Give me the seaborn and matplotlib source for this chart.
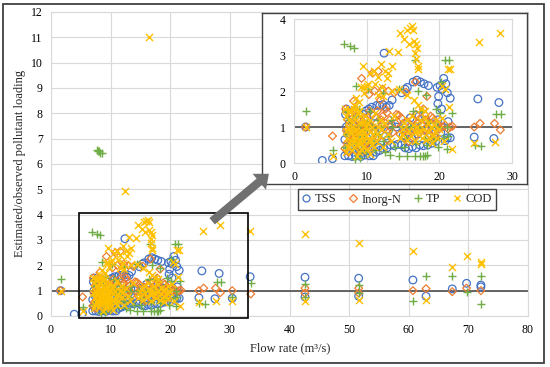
import matplotlib
matplotlib.use("Agg")
import matplotlib.pyplot as plt
import seaborn as sns
import pandas as pd
from matplotlib.patches import Rectangle, FancyArrowPatch
from matplotlib.lines import Line2D

# ---------------- data (flow rate m3/s, estimated/observed ratio) ----------------
tss_points = [
    (1.6, 1.0), (3.9, 0.07), (5.3, 0.12), (12.4, 3.05),
    (14.8, 1.95), (15.3, 2.05), (15.6, 2.1), (16.4, 2.25), (16.9, 2.3), (17.4, 2.25), (17.9, 2.2), (18.5, 2.15),
    (19.7, 2.1), (20.1, 2.15), (20.6, 2.35), (20.9, 2.2), (20.4, 2.05), (21.1, 1.95), (21.5, 1.8), (19.9, 1.85),
    (19.8, 1.65), (20.3, 1.5), (21.2, 1.15), (21.5, 0.7), (21.1, 0.7), (20.8, 0.62), (20.3, 1.0),
    (24.8, 0.72), (25.3, 1.78), (27.5, 0.68), (28.2, 1.68), (30.4, 0.7), (33.4, 1.55),
    (42.6, 1.53), (42.6, 0.75), (51.6, 1.49), (51.6, 0.78), (60.7, 1.42), (62.9, 0.78),
    (67.3, 1.07), (69.7, 1.29), (72.1, 1.22), (72.1, 1.15),
    (7.0, 0.2), (7.3, 0.35), (7.5, 0.2), (7.8, 0.5), (8.0, 0.18), (8.2, 0.3), (8.5, 0.2), (8.8, 0.45),
    (9.2, 0.18), (9.5, 0.3), (9.8, 0.22), (10.2, 0.35), (10.4, 0.2), (10.9, 0.2), (11.3, 0.3), (11.8, 0.35),
    (12.3, 0.4), (12.8, 0.42), (13.3, 0.5), (13.8, 0.48), (14.3, 0.52), (7.1, 1.35), (7.2, 1.5), (7.4, 0.8),
    (7.6, 1.1), (8.0, 0.9), (8.3, 0.65), (8.7, 1.2), (9.1, 0.95), (9.5, 1.35), (9.9, 1.45), (10.3, 1.5),
    (10.7, 1.55), (11.0, 1.3), (11.4, 1.6), (11.8, 1.6), (12.2, 1.62), (12.7, 1.55), (13.1, 1.6), (13.5, 1.75),
    (10.0, 0.7), (10.6, 1.0), (11.2, 0.85), (12.0, 0.6), (12.6, 0.75), (13.0, 0.9), (13.4, 1.05), (7.0, 0.65),
    (9.3, 0.6), (7.2, 1.0), (7.7, 1.3), (8.4, 1.45), (8.9, 0.3), (9.7, 0.5), (10.8, 0.55), (11.6, 0.45),
    (14.1, 1.0), (15.2, 1.1), (18.0, 1.3),
    (14.8, 0.5), (15.3, 0.42), (15.8, 0.4), (16.3, 0.45), (16.8, 0.42), (17.3, 0.5), (17.8, 0.48), (18.4, 0.5),
    (19.0, 0.55), (19.5, 0.6), (15.0, 0.75), (15.7, 0.85), (16.2, 0.7), (16.6, 1.0), (17.0, 0.8), (17.6, 1.05),
    (18.2, 0.9), (18.8, 1.1), (19.3, 0.8), (19.8, 1.2), (20.2, 0.85), (16.0, 1.25), (17.2, 1.3),
]

inorgn_points = [
    (1.6, 1.0), (5.3, 0.75), (24.8, 1.0), (25.6, 1.1), (27.6, 1.1), (28.4, 0.92), (30.4, 1.0), (33.5, 0.87),
    (42.6, 1.1), (42.6, 0.9), (51.6, 1.1), (51.6, 0.91), (60.7, 1.0), (62.9, 1.08), (67.3, 0.96), (69.7, 1.1),
    (72.1, 1.0),
    (9.3, 2.35), (10.8, 2.5), (11.6, 2.55), (12.2, 2.05), (13.0, 2.0), (13.8, 1.95), (11.9, 1.75), (8.2, 1.72),
    (14.1, 1.35), (14.4, 1.33), (16.7, 2.25), (15.4, 1.97), (18.3, 1.85), (17.8, 1.5), (12.8, 1.4), (13.2, 1.2),
    (10.3, 1.9), (11.1, 2.0),
    (7.0, 0.4), (7.2, 0.9), (7.4, 1.2), (7.6, 0.6), (7.8, 1.4), (8.0, 0.8), (8.2, 1.1), (8.4, 0.5), (8.6, 1.3),
    (8.8, 0.7), (9.0, 1.0), (9.2, 0.45), (9.4, 1.15), (9.6, 0.85), (9.8, 1.25), (10.0, 0.6), (10.2, 1.05),
    (10.5, 0.75), (10.8, 1.35), (11.0, 0.9), (11.3, 1.1), (11.6, 0.7), (12.0, 1.2), (12.4, 0.95), (12.8, 0.65),
    (13.2, 1.0), (13.6, 0.85), (14.0, 1.1), (7.5, 0.3), (8.5, 0.35), (9.7, 0.35), (10.6, 0.45),
    (7.1, 1.5), (7.3, 0.55), (7.7, 1.0), (8.1, 1.45), (8.3, 0.7), (8.7, 0.95), (9.1, 0.7), (9.5, 1.05),
    (9.9, 0.55), (10.4, 1.45), (11.5, 1.45), (12.2, 1.3), (12.6, 1.5),
    (14.6, 0.8), (15.0, 1.05), (15.3, 0.7), (15.6, 1.15), (16.0, 0.9), (16.3, 1.2), (16.6, 0.75), (17.0, 1.1),
    (17.3, 0.85), (17.6, 1.25), (18.0, 0.95), (18.3, 1.15), (18.6, 0.8), (19.0, 1.05), (19.3, 0.9), (19.7, 1.1),
    (20.0, 0.95), (20.4, 1.0), (20.8, 1.05), (21.2, 0.95), (21.5, 1.0), (21.8, 1.02), (16.8, 1.35), (18.8, 1.3),
    (15.8, 0.6), (19.5, 0.7), (14.8, 1.25), (15.1, 0.9), (17.1, 0.95), (18.1, 1.2), (19.1, 1.25),
]

tp_points = [
    (1.6, 1.45), (5.3, 0.35), (7.7, 6.55), (7.9, 6.5), (8.1, 6.5), (8.3, 6.45), (8.5, 6.45),
    (6.9, 3.3), (7.7, 3.25), (8.3, 3.2),
    (8.6, 2.15), (10.2, 2.05), (12.3, 1.95), (14.5, 2.05), (16.6, 2.85), (17.0, 2.0), (19.5, 1.5), (18.2, 1.9),
    (20.8, 2.85), (21.3, 2.85), (21.7, 1.4), (21.2, 0.75), (20.2, 2.25), (21.0, 0.4),
    (24.9, 0.5), (25.8, 0.47), (27.8, 1.35), (28.5, 1.35), (30.4, 0.75), (33.6, 1.3),
    (42.6, 1.26), (42.6, 0.75), (51.6, 1.24), (51.6, 0.9), (60.7, 0.6), (62.9, 1.58), (67.3, 1.57), (69.7, 0.93),
    (72.1, 1.57), (72.1, 0.47),
    (8.4, 0.1), (9.1, 0.15), (13.2, 0.22), (14.5, 0.2), (15.5, 0.2), (16.7, 0.2), (17.3, 0.2), (17.7, 0.2),
    (18.0, 0.2), (18.3, 0.22),
    (7.0, 0.45), (7.3, 0.8), (7.6, 1.2), (7.9, 0.55), (8.2, 0.95), (8.5, 1.3), (8.8, 0.7), (9.1, 1.05),
    (9.4, 0.4), (9.7, 0.9), (10.0, 1.15), (10.4, 0.6), (10.8, 1.0), (11.2, 0.35), (11.6, 0.8), (12.0, 1.0),
    (12.5, 0.3), (13.0, 0.75), (13.5, 1.0), (13.9, 0.45), (10.5, 1.45), (11.5, 1.2), (9.0, 1.5),
    (7.2, 1.45), (7.8, 1.0), (8.6, 0.55), (9.3, 0.75), (9.9, 0.3), (11.0, 0.6), (12.2, 0.6), (13.3, 1.2),
    (14.8, 1.0), (15.4, 0.7), (15.9, 1.0), (16.4, 1.45), (16.8, 0.55), (17.2, 1.0), (17.6, 1.45), (18.0, 0.7),
    (18.6, 1.1), (19.2, 0.65), (19.7, 1.0), (20.1, 1.4), (20.5, 0.7), (21.0, 1.0), (15.1, 0.45), (18.3, 0.5),
    (19.8, 0.45),
]

cod_points = [
    (1.6, 1.0), (5.3, 0.2), (12.4, 4.95), (16.5, 11.0),
    (25.5, 3.35), (28.4, 3.6), (33.4, 3.36), (24.8, 0.55), (27.7, 0.58), (30.3, 0.6),
    (42.6, 3.24), (42.6, 0.6), (51.6, 2.9), (51.6, 0.62), (60.7, 2.55), (62.9, 0.62), (67.3, 1.92), (69.7, 2.36),
    (72.1, 2.05), (72.1, 2.12),
    (14.6, 3.6), (15.2, 3.45), (15.6, 3.7), (16.0, 3.75), (16.2, 3.8), (16.4, 3.7), (15.8, 3.3), (16.5, 3.4),
    (16.8, 3.3), (16.9, 3.2), (16.7, 3.05), (16.8, 2.9), (17.0, 2.7), (17.0, 2.6), (14.3, 3.07), (13.1, 3.1),
    (9.5, 2.7), (10.5, 2.5), (11.0, 2.55), (11.5, 2.4), (12.0, 2.75), (12.5, 2.55), (13.0, 2.5), (13.5, 2.7),
    (12.8, 2.35), (11.2, 2.2), (10.0, 2.15), (9.2, 2.1), (9.6, 2.1), (10.2, 2.2), (12.1, 2.1), (13.5, 2.0),
    (14.5, 2.05), (15.5, 1.9), (16.5, 1.75), (17.0, 1.6), (17.5, 1.5), (18.0, 1.45), (8.5, 1.8), (9.0, 1.7),
    (8.2, 1.6), (8.7, 1.5), (9.7, 1.95), (11.5, 1.9), (12.3, 1.85),
    (21.2, 2.6), (21.5, 2.6), (21.3, 1.55), (21.7, 0.4), (20.4, 2.15), (20.8, 2.05),
    (7.0, 1.5), (7.2, 0.3), (7.4, 1.0), (7.6, 0.55), (7.8, 1.45), (8.0, 0.35), (8.1, 0.75), (8.3, 1.25),
    (8.5, 0.5), (8.6, 0.95), (8.8, 1.4), (9.0, 0.3), (9.1, 0.65), (9.3, 1.1), (9.5, 0.45), (9.6, 0.85),
    (9.8, 1.3), (10.0, 0.4), (10.1, 0.95), (10.3, 0.65), (10.5, 1.2), (10.7, 0.5), (10.9, 0.8), (11.1, 1.4),
    (11.3, 0.6), (11.6, 1.0), (11.9, 0.75), (12.2, 0.45), (12.5, 1.1), (12.9, 0.8), (13.3, 0.6), (13.7, 1.3),
    (7.3, 0.7), (7.7, 0.85), (8.4, 0.6), (8.9, 1.1), (9.4, 0.75), (9.9, 1.0), (10.4, 0.25), (7.5, 1.2),
    (8.0, 1.0), (9.2, 0.55), (8.7, 0.2),
    (7.1, 0.9), (7.2, 1.3), (7.4, 0.45), (7.6, 0.95), (7.9, 0.6), (8.1, 1.15), (8.2, 0.45), (8.4, 0.9),
    (8.6, 0.7), (8.8, 0.55), (8.9, 0.85), (9.1, 1.3), (9.2, 0.9), (9.4, 0.35), (9.6, 1.15), (9.7, 0.6),
    (9.9, 0.75), (10.2, 1.1), (10.4, 0.85), (10.6, 0.65), (10.8, 1.0), (11.0, 0.45), (11.4, 0.8), (11.8, 1.2),
    (12.1, 0.95), (7.5, 1.45), (8.3, 1.5), (9.0, 1.45),
    (14.6, 0.7), (14.9, 0.8), (15.2, 1.1), (15.5, 0.65), (15.8, 0.9), (16.1, 0.75), (16.4, 1.05), (16.7, 0.6),
    (17.0, 0.85), (17.3, 1.2), (17.6, 0.7), (17.9, 0.95), (18.2, 0.65), (18.5, 0.85), (18.8, 1.0), (19.1, 0.75),
    (19.4, 0.9), (19.7, 0.7), (20.0, 0.95), (20.3, 1.25), (20.6, 0.6), (16.2, 1.3), (18.0, 1.25), (19.0, 0.55),
    (15.0, 0.95), (15.6, 1.2), (16.9, 1.0), (17.4, 0.9), (18.4, 1.1), (18.7, 0.7), (19.2, 1.05), (19.6, 1.2),
    (16.6, 0.85),
]

series_names = ["TSS", "Inorg-N", "TP", "COD"]
series_points = [tss_points, inorgn_points, tp_points, cod_points]
series_colors = ["#4472C4", "#ED7D31", "#70AD47", "#FFC000"]

main_xticks = [0, 10, 20, 30, 40, 50, 60, 70, 80]
main_yticks = list(range(0, 13))
inset_xticks = [0, 10, 20, 30]
inset_yticks = [0, 1, 2, 3, 4]

frames = []
for name, pts in zip(series_names, series_points):
    d = pd.DataFrame(pts, columns=["flow", "ratio"])
    d["series"] = name
    frames.append(d)
df = pd.concat(frames, ignore_index=True)

# ---------------- styling ----------------
sns.set_theme(style="white")
plt.rcParams["font.family"] = ["Liberation Serif", "DejaVu Serif"]
GRID = "#D9D9D9"
W, H = 550, 367

fig = plt.figure(figsize=(5.5, 3.67), dpi=100)


def px_rect(x0, y0, x1, y1):
    return [x0 / W, 1 - y1 / H, (x1 - x0) / W, (y1 - y0) / H]


def draw_series(ax, data):
    for name, col in zip(series_names, series_colors):
        sub = data[data["series"] == name]
        if name == "TSS":
            sns.scatterplot(data=sub, x="flow", y="ratio", ax=ax, marker="o", s=30,
                            facecolors="none", edgecolor=col, linewidth=0.9, zorder=3)
        elif name == "Inorg-N":
            sns.scatterplot(data=sub, x="flow", y="ratio", ax=ax, marker="D", s=16,
                            facecolors="none", edgecolor=col, linewidth=0.9, zorder=3)
        elif name == "TP":
            sns.scatterplot(data=sub, x="flow", y="ratio", ax=ax, marker="+", s=34,
                            color=col, linewidth=1.0, zorder=3)
        else:
            sns.scatterplot(data=sub, x="flow", y="ratio", ax=ax, marker="x", s=26,
                            color=col, linewidth=1.0, zorder=3)
    ax.axhline(1, color="#595959", lw=1.3, zorder=2)


def style_axes(ax, xlim, ylim, xt, yt):
    ax.set_xlim(*xlim)
    ax.set_ylim(*ylim)
    ax.set_xticks(xt)
    ax.set_yticks(yt)
    ax.grid(True, color=GRID, lw=0.8)
    ax.set_axisbelow(True)
    for s in ax.spines.values():
        s.set_color(GRID)
        s.set_linewidth(0.8)
    ax.tick_params(length=0, labelsize=8.5, pad=6, colors="#000000")
    ax.set_xlabel("")
    ax.set_ylabel("")
    if ax.get_legend():
        ax.get_legend().remove()


# main axes
ax = fig.add_axes(px_rect(51, 12, 528, 316))
draw_series(ax, df)
style_axes(ax, (0, 80), (0, 12), main_xticks, main_yticks)
ax.add_patch(Rectangle((4.7, -0.08), 28.4, 4.16, fill=False, edgecolor="black",
                       lw=1.2, clip_on=False, zorder=6))

fig.text(20 / W, 1 - 163 / H, "Estimated/observed pollutant loading", rotation=90,
         ha="center", va="center", fontsize=9)
fig.text(290 / W, 1 - 348 / H, "Flow rate (m\u00b3/s)", ha="center", va="center", fontsize=9)

# inset frame
box = fig.add_axes(px_rect(262, 13, 527, 184))
box.set_xticks([])
box.set_yticks([])
box.set_facecolor("white")
for s in box.spines.values():
    s.set_color("#404040")
    s.set_linewidth(1.0)
box.set_zorder(3)

# inset axes (zoom of the framed region)
axi = fig.add_axes(px_rect(294, 19, 512, 163))
axi.set_zorder(4)
draw_series(axi, df[df["flow"] <= 30])
style_axes(axi, (0, 30), (0, 4), inset_xticks, inset_yticks)
axi.patch.set_alpha(0)

# legend
handles = [
    Line2D([], [], ls="none", marker="o", ms=5, mfc="none", mec=series_colors[0], mew=0.9),
    Line2D([], [], ls="none", marker="D", ms=3.8, mfc="none", mec=series_colors[1], mew=0.9),
    Line2D([], [], ls="none", marker="+", ms=5.5, color=series_colors[2], mew=1.0),
    Line2D([], [], ls="none", marker="x", ms=4.5, color=series_colors[3], mew=1.0),
]
leg = fig.legend(handles, series_names, loc="center", bbox_to_anchor=(397 / W, 1 - 199.5 / H),
                 ncol=4, frameon=True, fancybox=False, edgecolor="#404040", fontsize=9,
                 handlelength=0.7, handletextpad=0.3, columnspacing=1.0, borderpad=0.35,
                 framealpha=1)
leg.get_frame().set_linewidth(1.0)
leg.set_zorder(8)

# arrow
arrow = FancyArrowPatch((210 / W, 1 - 223 / H), (271 / W, 1 - 172 / H), transform=fig.transFigure,
                        arrowstyle="simple,head_length=0.9,head_width=1.5,tail_width=0.6",
                        mutation_scale=10, color="#707070", lw=0, zorder=10)
fig.add_artist(arrow)

# figure border
fig.add_artist(Rectangle((3 / W, 4 / H), 541 / W, 359 / H, transform=fig.transFigure,
                         fill=False, edgecolor="#404040", lw=1.3, zorder=11))

fig.savefig("out.png", dpi=100)
